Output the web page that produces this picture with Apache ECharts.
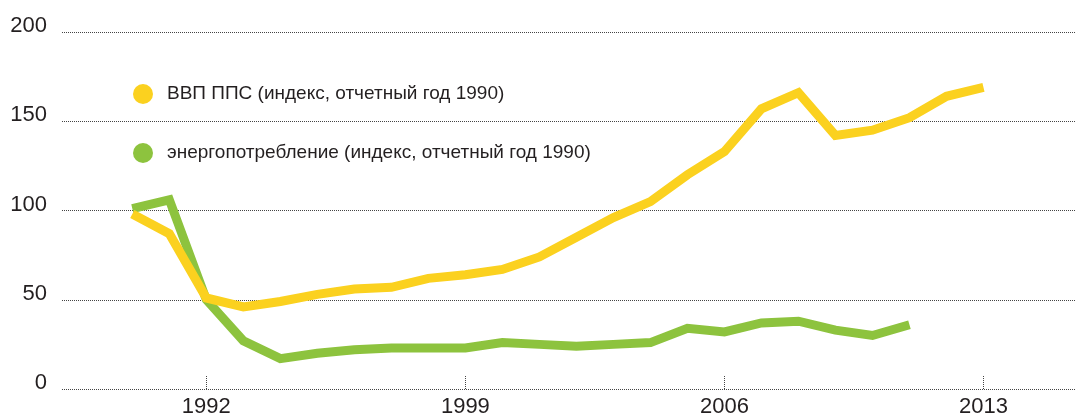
<!DOCTYPE html>
<html>
<head>
<meta charset="utf-8">
<script src="https://cdn.jsdelivr.net/npm/echarts@6/dist/echarts.min.js"></script>
<style>
  html, body { margin: 0; padding: 0; background: #fff; }
  #chart { width: 1076px; height: 418px; }
</style>
</head>
<body>
<div id="chart"></div>
<script>
// years for both series
const years = [1990, 1991, 1992, 1993, 1994, 1995, 1996, 1997, 1998, 1999, 2000, 2001,
  2002, 2003, 2004, 2005, 2006, 2007, 2008, 2009, 2010, 2011, 2012, 2013];
// ВВП ППС, 1990 = 100
const gdp = [98, 87, 51, 46, 49, 53, 56, 57, 62, 64, 67, 74, 85, 96, 105, 120, 133, 157, 166, 142, 145, 152, 164, 169];
// энергопотребление, 1990 = 100 (до 2011)
const energy = [101, 106, 50, 27, 17, 20, 22, 23, 23, 23, 26, 25, 24, 25, 26, 34, 32, 37, 38, 33, 30, 36];
const xTicks = [1992, 1999, 2006, 2013];

const seriesNames = ["ВВП ППС (индекс, отчетный год 1990)", "энергопотребление (индекс, отчетный год 1990)"];
const colors = ["#fbd11f", "#8dc33e"];

const chart = echarts.init(document.getElementById("chart"));

chart.setOption({
  animation: false,
  backgroundColor: "#fff",
  color: colors,
  textStyle: { fontFamily: "Liberation Sans, Arial, sans-serif" },
  grid: { left: 62, right: 0, top: 32, bottom: 29, containLabel: false },
  legend: {
    orient: "vertical",
    left: 128,
    top: 79,
    icon: "circle",
    itemWidth: 20,
    itemHeight: 20,
    itemGap: 39,
    data: seriesNames,
    textStyle: { fontSize: 19, color: "#231f20", padding: [0, 0, 0, 9] }
  },
  xAxis: {
    type: "value",
    min: 1988.1,
    max: 2015.5,
    axisLine: { show: false },
    splitLine: { show: false },
    axisTick: {
      show: true,
      inside: true,
      length: 14,
      customValues: xTicks,
      lineStyle: { color: "#444", type: [1, 1], width: 1 }
    },
    axisLabel: {
      customValues: xTicks,
      formatter: (v) => String(v),
      fontSize: 22,
      color: "#231f20",
      margin: 7
    }
  },
  yAxis: {
    type: "value",
    min: 0,
    max: 200,
    interval: 50,
    axisLine: { show: false },
    axisTick: { show: false },
    axisLabel: {
      fontSize: 22,
      color: "#231f20",
      margin: 15,
      verticalAlign: "bottom",
      lineHeight: 12
    },
    splitLine: {
      show: true,
      lineStyle: { color: "#444", type: [1, 1], width: 1 }
    }
  },
  series: [
    {
      name: seriesNames[0],
      type: "line",
      z: 3,
      showSymbol: false,
      symbol: "none",
      data: gdp.map((v, i) => [years[i], v]),
      lineStyle: { width: 9, color: colors[0], join: "miter", cap: "butt" }
    },
    {
      name: seriesNames[1],
      type: "line",
      z: 2,
      showSymbol: false,
      symbol: "none",
      data: energy.map((v, i) => [years[i], v]),
      lineStyle: { width: 9, color: colors[1], join: "miter", cap: "butt" }
    }
  ]
});
</script>
</body>
</html>
